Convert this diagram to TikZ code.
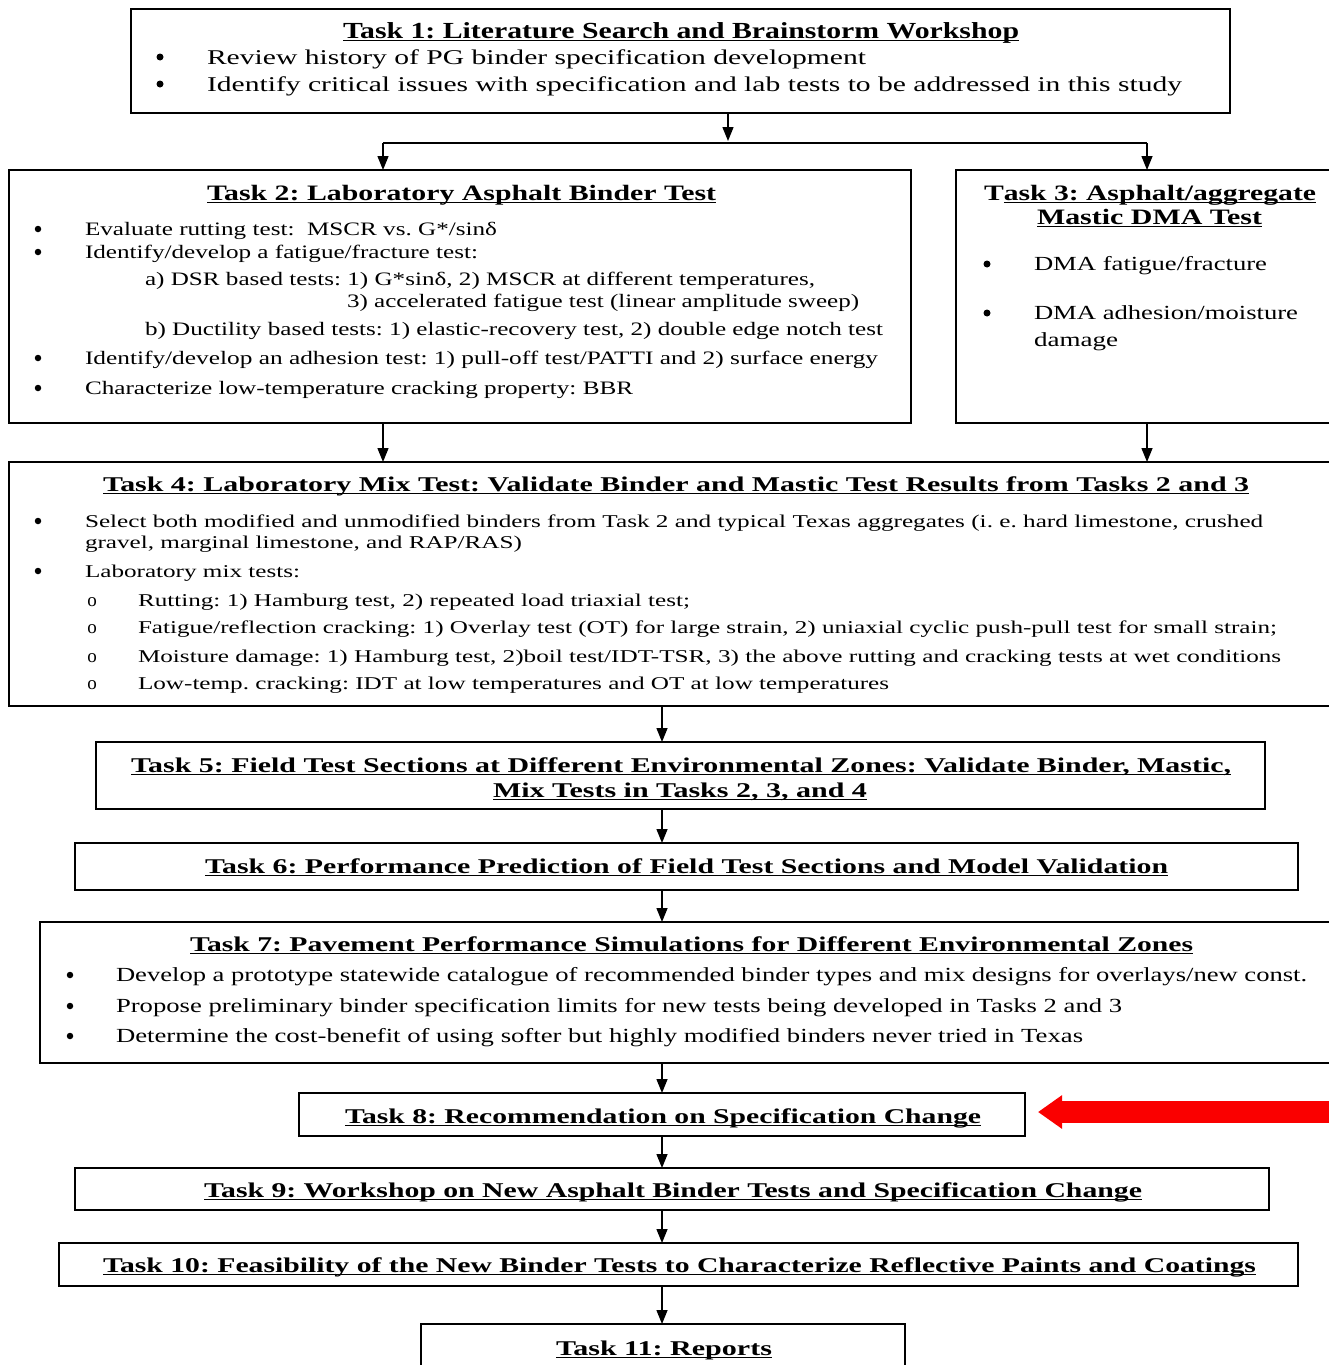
\documentclass[tikz,border=0pt]{standalone}
\usepackage{graphicx}
\usepackage{fontspec}
\setmainfont{Liberation Serif}
\usetikzlibrary{arrows.meta}
\frenchspacing
\newcommand{\fw}[2]{\resizebox{#1pt}{\height}{#2}}
\newcommand{\ulx}[1]{{\setbox0=\hbox{#1}\rlap{\raisebox{-0.14em}{\rule{\wd0}{0.065em}}}\box0}}
\definecolor{redarrow}{RGB}{250,0,0}
\begin{document}
\begin{tikzpicture}[x=1pt,y=-1pt,
  box/.style={draw=black, line width=1.8pt, inner sep=0pt, outer sep=0pt},
  tx/.style={inner sep=0pt, outer sep=0pt, anchor=base west},
  dot/.style={inner sep=0pt, outer sep=0pt, anchor=base},
  bul/.style={circle, fill=black, inner sep=0pt, outer sep=0pt, minimum size=#1},
  bul/.default=6.5pt,
  fn/.style={font=\fontsize{#1}{#1}\selectfont},
  fb/.style={font=\fontsize{#1}{#1}\selectfont\bfseries},
  link/.style={draw=black, line width=1.4pt},
  arr/.style={link, -{Triangle[length=14pt,width=11pt]}}]
\useasboundingbox (0,0) rectangle (1328,1365);
\fill[white] (0,0) rectangle (1328,1365);

% ---------- boxes ----------
\node[box, minimum width=1099pt, minimum height=104pt] (b1) at (680.5,61) {};
\node[box, minimum width=902pt, minimum height=253pt] (b2) at (460,296.5) {};
\node[box, minimum width=384pt, minimum height=253pt] (b3) at (1148,296.5) {};
\node[box, minimum width=1331pt, minimum height=244pt] (b4) at (674.5,584) {};
\node[box, minimum width=1169pt, minimum height=67pt] (b5) at (680.5,775.5) {};
\node[box, minimum width=1223pt, minimum height=47pt] (b6) at (686.5,866.5) {};
\node[box, minimum width=1300pt, minimum height=141pt] (b7) at (690,992.5) {};
\node[box, minimum width=726pt, minimum height=43pt] (b8) at (662,1114.5) {};
\node[box, minimum width=1194pt, minimum height=42pt] (b9) at (672,1189) {};
\node[box, minimum width=1239pt, minimum height=43pt] (b10) at (678.5,1264.5) {};
\node[box, minimum width=484pt, minimum height=56pt] (b11) at (663,1352) {};

% ---------- Task 1 ----------
\node[tx, fb=23] (t1) at (343,38) {\fw{676}{\ulx{Task 1: Literature Search and Brainstorm Workshop}}};
\node[bul=7pt] (d1a) at (160,57) {};
\node[bul=7pt] (d1b) at (160,84) {};
\node[tx, fn=21] (t1a) at (207,64) {\fw{659}{Review history of PG binder specification development}};
\node[tx, fn=21] (t1b) at (207,91) {\fw{975}{Identify critical issues with specification and lab tests to be addressed in this study}};

% ---------- Task 2 ----------
\node[tx, fb=22] (t2) at (207,200) {\fw{509}{\ulx{Task 2: Laboratory Asphalt Binder Test}}};
\node[bul] (d2a) at (38,229) {};
\node[bul] (d2b) at (38,252) {};
\node[bul] (d2c) at (38,358) {};
\node[bul] (d2d) at (38,388) {};
\node[tx, fn=19] (t2a) at (85,235) {\fw{412}{Evaluate rutting test:\ \ MSCR vs. G*/sinδ}};
\node[tx, fn=19] (t2b) at (85,258) {\fw{393}{Identify/develop a fatigue/fracture test:}};
\node[tx, fn=19] (t2c) at (145,285) {\fw{670}{a) DSR based tests: 1) G*sinδ, 2) MSCR at different temperatures,}};
\node[tx, fn=19] (t2d) at (347,307) {\fw{512}{3) accelerated fatigue test (linear amplitude sweep)}};
\node[tx, fn=19] (t2e) at (145,335) {\fw{738}{b) Ductility based tests: 1) elastic-recovery test, 2) double edge notch test}};
\node[tx, fn=19] (t2f) at (85,364) {\fw{793}{Identify/develop an adhesion test: 1) pull-off test/PATTI and 2) surface energy}};
\node[tx, fn=19] (t2g) at (85,394) {\fw{548}{Characterize low-temperature cracking property: BBR}};

% ---------- Task 3 ----------
\node[tx, fb=22] (t3) at (984,200) {\fw{332}{T\ulx{ask 3: Asphalt/aggregate}}};
\node[tx, fb=22] (t3b) at (1037,224) {\fw{225}{\ulx{Mastic DMA Test}}};
\node[bul=7pt] (d3a) at (987,264) {};
\node[bul=7pt] (d3b) at (987,313) {};
\node[tx, fn=20] (t3c) at (1034,270) {\fw{233}{DMA fatigue/fracture}};
\node[tx, fn=20] (t3d) at (1034,319) {\fw{264}{DMA adhesion/moisture}};
\node[tx, fn=20] (t3e) at (1034,346) {\fw{84}{damage}};

% ---------- Task 4 ----------
\node[tx, fb=21] (t4) at (103,491) {\fw{1146}{\ulx{Task 4: Laboratory Mix Test: Validate Binder and Mastic Test Results from Tasks 2 and 3}}};
\node[bul] (d4a) at (38,521) {};
\node[bul] (d4b) at (38,571) {};
\node[tx, fn=18] (t4a) at (85,527) {\fw{1178}{Select both modified and unmodified binders from Task 2 and typical Texas aggregates (i. e. hard limestone, crushed}};
\node[tx, fn=18] (t4b) at (85,548) {\fw{437}{gravel, marginal limestone, and RAP/RAS)}};
\node[tx, fn=18] (t4c) at (85,577) {\fw{215}{Laboratory mix tests:}};
\node[dot, fn=19] (o4a) at (92,606) {o};
\node[dot, fn=19] (o4b) at (92,633) {o};
\node[dot, fn=19] (o4c) at (92,662) {o};
\node[dot, fn=19] (o4d) at (92,689) {o};
\node[tx, fn=18] (t4d) at (138,606) {\fw{552}{Rutting: 1) Hamburg test, 2) repeated load triaxial test;}};
\node[tx, fn=18] (t4e) at (138,633) {\fw{1139}{Fatigue/reflection cracking: 1) Overlay test (OT) for large strain, 2) uniaxial cyclic push-pull test for small strain;}};
\node[tx, fn=18] (t4f) at (138,662) {\fw{1143}{Moisture damage: 1) Hamburg test, 2)boil test/IDT-TSR, 3) the above rutting and cracking tests at wet conditions}};
\node[tx, fn=18] (t4g) at (138,689) {\fw{751}{Low-temp. cracking: IDT at low temperatures and OT at low temperatures}};

% ---------- Task 5 - 11 ----------
\node[tx, fb=21] (t5) at (131,772) {\fw{1100}{\ulx{Task 5: Field Test Sections at Different Environmental Zones: Validate Binder, Mastic,}}};
\node[tx, fb=21] (t5b) at (493,797) {\fw{374}{\ulx{Mix Tests in Tasks 2, 3, and 4}}};
\node[tx, fb=21] (t6) at (205,873) {\fw{963}{\ulx{Task 6: Performance Prediction of Field Test Sections and Model Validation}}};
\node[tx, fb=21] (t7) at (190,951) {\fw{1003}{\ulx{Task 7: Pavement Performance Simulations for Different Environmental Zones}}};
\node[bul] (d7a) at (70,975) {};
\node[bul] (d7b) at (70,1006) {};
\node[bul] (d7c) at (70,1036) {};
\node[tx, fn=20] (t7a) at (116,981) {\fw{1191}{Develop a prototype statewide catalogue of recommended binder types and mix designs for overlays/new const.}};
\node[tx, fn=20] (t7b) at (116,1012) {\fw{1006}{Propose preliminary binder specification limits for new tests being developed in Tasks 2 and 3}};
\node[tx, fn=20] (t7c) at (116,1042) {\fw{967}{Determine the cost-benefit of using softer but highly modified binders never tried in Texas}};
\node[tx, fb=21] (t8) at (345,1123) {\fw{636}{\ulx{Task 8: Recommendation on Specification Change}}};
\node[tx, fb=21] (t9) at (204,1197) {\fw{938}{\ulx{Task 9: Workshop on New Asphalt Binder Tests and Specification Change}}};
\node[tx, fb=21] (t10) at (103,1272) {\fw{1153}{\ulx{Task 10: Feasibility of the New Binder Tests to Characterize Reflective Paints and Coatings}}};
\node[tx, fb=21] (t11) at (556,1355) {\fw{216}{\ulx{Task 11: Reports}}};

% ---------- connectors ----------
\coordinate (jM) at (728,141);
\coordinate (jL) at (383,143);
\coordinate (jR) at (1147,143);
\coordinate (xm) at (662,0);
\draw[arr] (b1.south -| jM) -- (jM);
\draw[link] (jL) -- (jR);
\draw[arr] (jL) -- (b2.north -| jL);
\draw[arr] (jR) -- (b3.north -| jR);
\draw[arr] (b2.south -| jL) -- (b4.north -| jL);
\draw[arr] (b3.south -| jR) -- (b4.north -| jR);
\draw[arr] (b4.south -| xm) -- (b5.north -| xm);
\draw[arr] (b5.south -| xm) -- (b6.north -| xm);
\draw[arr] (b6.south -| xm) -- (b7.north -| xm);
\draw[arr] (b7.south -| xm) -- (b8.north -| xm);
\draw[arr] (b8.south -| xm) -- (b9.north -| xm);
\draw[arr] (b9.south -| xm) -- (b10.north -| xm);
\draw[arr] (b10.south -| xm) -- (b11.north -| xm);

% ---------- red arrow ----------
\coordinate (rtip) at (1038,1112);
\coordinate (rtail) at (1345,1112);
\draw[redarrow, line width=22pt, -{Triangle[length=24pt,width=32pt]}] (rtail) -- (rtip);
\end{tikzpicture}
\end{document}
